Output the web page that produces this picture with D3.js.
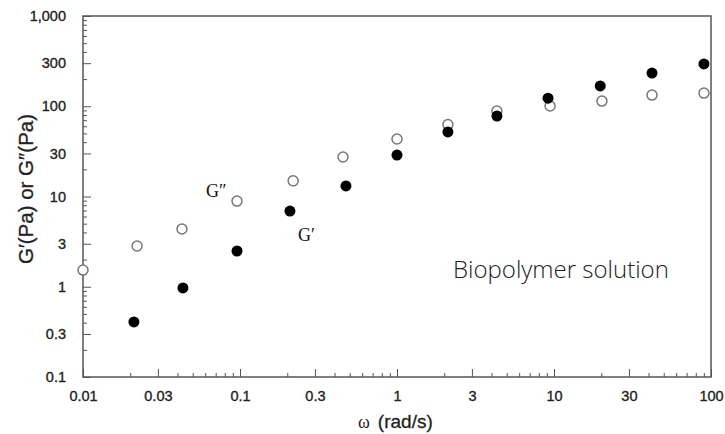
<!DOCTYPE html>
<html>
<head>
<meta charset="utf-8">
<script src="https://cdn.jsdelivr.net/npm/d3@7"></script>
<style>
  html, body { margin: 0; padding: 0; background: #fff; }
  svg { display: block; }
</style>
</head>
<body>
<div id="chart"></div>
<script>
// frequency sweep: storage (G') and loss (G'') modulus
const omega = [0.01, 0.0221, 0.0427, 0.0957, 0.218, 0.453, 1.0, 2.11, 4.33, 9.44, 20.2, 42.1, 90.2];
const gLoss = [1.53, 2.83, 4.36, 8.9, 14.9, 27.4, 43.4, 62.8, 88.6, 100.7, 114, 133, 140];

const omegaStorage = [0.0211, 0.0433, 0.0957, 0.208, 0.473, 1.0, 2.11, 4.33, 9.16, 19.7, 42.1, 90.2];
const gStorage = [0.407, 0.97, 2.49, 6.9, 13.1, 28.8, 51.9, 78, 123, 168, 233, 294];

const xTicks = [0.01, 0.03, 0.1, 0.3, 1, 3, 10, 30, 100];
const xTickLabels = ["0.01", "0.03", "0.1", "0.3", "1", "3", "10", "30", "100"];
const yTicks = [0.1, 0.3, 1, 3, 10, 30, 100, 300, 1000];
const yTickLabels = ["0.1", "0.3", "1", "3", "10", "30", "100", "300", "1,000"];

const width = 725, height = 434;
const margin = { top: 16, right: 14, bottom: 57, left: 83 };

const svg = d3.select("#chart").append("svg")
  .attr("width", width)
  .attr("height", height);

const x = d3.scaleLog().domain([0.01, 100]).range([margin.left, width - margin.right]);
const y = d3.scaleLog().domain([0.1, 1000]).range([height - margin.bottom, margin.top]);

// minor ticks: every 1..9 x 10^k
function minorTicks(lo, hi) {
  const out = [];
  for (let e = Math.log10(lo); e < Math.log10(hi); e++) {
    for (let m = 2; m <= 9; m++) {
      const v = m * Math.pow(10, e);
      if (m !== 3) out.push(+v.toPrecision(3));
    }
  }
  return out;
}

const axisColor = "#555";
const labelFont = "'Liberation Sans', Arial, sans-serif";

function styleLabels(g) {
  g.selectAll("text")
    .attr("font-family", labelFont)
    .attr("font-size", 14.5)
    .attr("fill", "#222")
    .attr("stroke", "#222")
    .attr("stroke-width", 0.35);
}

// x axis
svg.append("g")
  .attr("transform", `translate(0,${height - margin.bottom})`)
  .call(d3.axisBottom(x).tickValues(minorTicks(0.01, 100)).tickSizeInner(-4).tickSizeOuter(0).tickFormat(""))
  .call(g => g.select(".domain").remove())
  .call(g => g.selectAll("line").attr("stroke", axisColor));

svg.append("g")
  .attr("transform", `translate(0,${height - margin.bottom})`)
  .call(d3.axisBottom(x).tickValues(xTicks).tickSizeInner(-8).tickSizeOuter(0).tickPadding(14)
    .tickFormat((d, i) => xTickLabels[i]))
  .call(g => g.select(".domain").remove())
  .call(g => g.selectAll("line").attr("stroke", axisColor))
  .call(styleLabels);

// y axis
svg.append("g")
  .attr("transform", `translate(${margin.left},0)`)
  .call(d3.axisLeft(y).tickValues(minorTicks(0.1, 1000)).tickSizeInner(-4).tickSizeOuter(0).tickFormat(""))
  .call(g => g.select(".domain").remove())
  .call(g => g.selectAll("line").attr("stroke", axisColor));

svg.append("g")
  .attr("transform", `translate(${margin.left},0)`)
  .call(d3.axisLeft(y).tickValues(yTicks).tickSizeInner(-8).tickSizeOuter(0).tickPadding(17)
    .tickFormat((d, i) => yTickLabels[i]))
  .call(g => g.select(".domain").remove())
  .call(g => g.selectAll("line").attr("stroke", axisColor))
  .call(styleLabels);

// frame
svg.append("rect")
  .attr("x", margin.left)
  .attr("y", margin.top)
  .attr("width", width - margin.left - margin.right)
  .attr("height", height - margin.top - margin.bottom)
  .attr("fill", "none")
  .attr("stroke", axisColor)
  .attr("stroke-width", 1.5);

// G'' open circles
svg.append("g")
  .selectAll("circle")
  .data(omega.map((w, i) => ({ w, g: gLoss[i] })))
  .join("circle")
  .attr("cx", d => x(d.w))
  .attr("cy", d => y(d.g))
  .attr("r", 5)
  .attr("fill", "#fff")
  .attr("stroke", "#777")
  .attr("stroke-width", 1.5);

// G' filled circles
svg.append("g")
  .selectAll("circle")
  .data(omegaStorage.map((w, i) => ({ w, g: gStorage[i] })))
  .join("circle")
  .attr("cx", d => x(d.w))
  .attr("cy", d => y(d.g))
  .attr("r", 5.5)
  .attr("fill", "#000");

// series labels
const serif = "'Liberation Serif', 'Times New Roman', serif";
svg.append("text")
  .attr("x", x(0.0957) - 31).attr("y", y(8.9) - 4)
  .attr("font-family", serif).attr("font-size", 18).attr("fill", "#111")
  .text("G\u2033");
svg.append("text")
  .attr("x", x(0.208) + 8).attr("y", y(6.9) + 30)
  .attr("font-family", serif).attr("font-size", 18).attr("fill", "#111")
  .text("G\u2032");

svg.append("text")
  .attr("x", 453).attr("y", 278)
  .attr("font-family", "'Open Sans', sans-serif").attr("font-weight", 300)
  .attr("font-size", 24).attr("fill", "#222")
  .text("Biopolymer solution");

// axis titles
const xTitle = svg.append("text")
  .attr("x", 358)
  .attr("y", 428)
  .attr("fill", "#222");
xTitle.append("tspan")
  .attr("font-family", serif).attr("font-size", 18)
  .text("\u03c9");
xTitle.append("tspan")
  .attr("dx", 8)
  .attr("font-family", labelFont).attr("font-size", 19)
  .attr("stroke", "#222").attr("stroke-width", 0.3)
  .text("(rad/s)");

svg.append("text")
  .attr("transform", "translate(33,189) rotate(-90)")
  .attr("text-anchor", "middle")
  .attr("font-family", labelFont).attr("font-size", 20.5).attr("fill", "#222")
  .attr("stroke", "#222").attr("stroke-width", 0.3)
  .text("G\u2032(Pa) or G\u2033(Pa)");
</script>
</body>
</html>
